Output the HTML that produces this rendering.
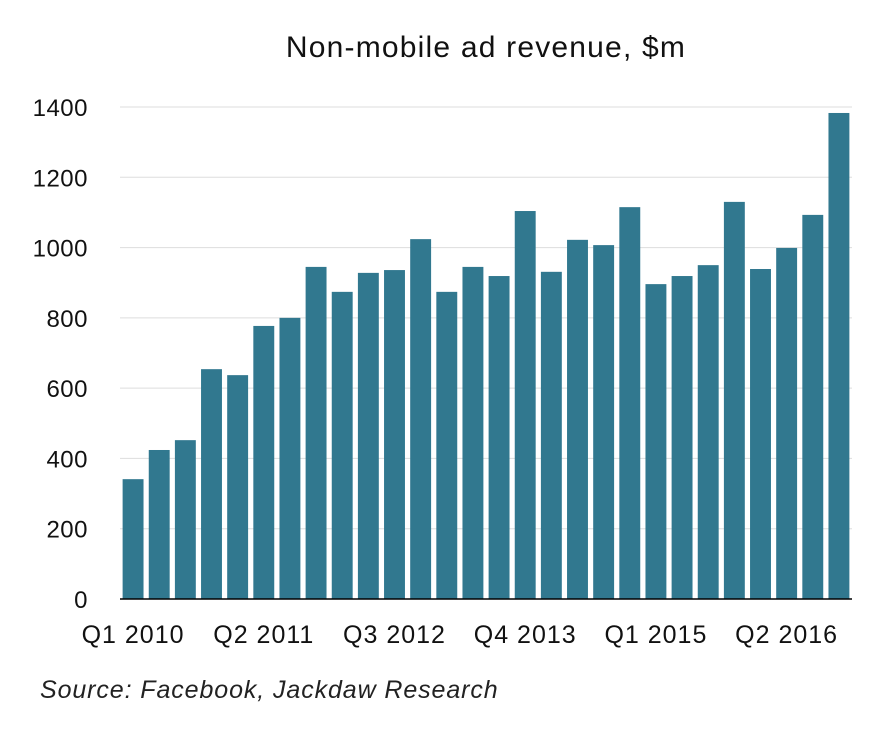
<!DOCTYPE html>
<html><head><meta charset="utf-8"><style>
body{margin:0;background:#fff;font-family:"Liberation Sans",sans-serif;}
</style></head><body>
<svg width="882" height="726" id="c">
<text x="486" y="57" text-anchor="middle" font-size="30" letter-spacing="1.2" fill="#111">Non-mobile ad revenue, $m</text>
<g id="grid"></g><g id="bars"></g><g id="xl"></g>
<text x="40" y="698" font-size="25" letter-spacing="0.9" font-style="italic" fill="#222">Source: Facebook, Jackdaw Research</text>
</svg>
<script>
const categories=["Q1 2010","Q2 2010","Q3 2010","Q4 2010","Q1 2011","Q2 2011","Q3 2011","Q4 2011","Q1 2012","Q2 2012","Q3 2012","Q4 2012","Q1 2013","Q2 2013","Q3 2013","Q4 2013","Q1 2014","Q2 2014","Q3 2014","Q4 2014","Q1 2015","Q2 2015","Q3 2015","Q4 2015","Q1 2016","Q2 2016","Q3 2016","Q4 2016"];
const values=[341,424,452,654,637,777,800,945,874,928,936,1024,874,945,919,1104,931,1022,1007,1115,896,919,950,1130,939,999,1093,1383];
const yTicks=[0,200,400,600,800,1000,1200,1400];
const xLabelIdx=[0,5,10,15,20,25];
const NS="http://www.w3.org/2000/svg";
const x0=120,x1=852,yBase=599,yTop=107,yMax=1400;
const y=v=>yBase-(v/yMax)*(yBase-yTop);
const step=(x1-x0)/categories.length,bw=step*0.8;
const xc=i=>x0+step*(i+0.5);
function mk(t,a,p){const e=document.createElementNS(NS,t);for(const k in a)e.setAttribute(k,a[k]);p.appendChild(e);return e;}
const g=document.getElementById('grid');
yTicks.forEach(t=>{
 if(t>0){const l=mk('line',{x1:x0,x2:x1,y1:y(t),y2:y(t),stroke:'#ddd','stroke-width':1},g);
 
 }
 const tx=mk('text',{x:88,y:y(t)+9,'text-anchor':'end','font-size':24,'letter-spacing':0.5,fill:'#111'},g);
 tx.textContent=t;
 
 
});
const b=document.getElementById('bars');
values.forEach((v,i)=>{
 const r=mk('rect',{x:xc(i)-bw/2,y:y(v),width:bw,height:yBase-y(v),fill:'#31788f'},b);
 
 
});
const ax=mk('line',{x1:x0,x2:x1,y1:yBase,y2:yBase,stroke:'#000','stroke-width':1.5},b);


const xl=document.getElementById('xl');
xLabelIdx.forEach(i=>{
 const t=mk('text',{x:xc(i),y:643,'text-anchor':'middle','font-size':25,'letter-spacing':1,fill:'#111'},xl);
 t.textContent=categories[i];
 
 
});
</script>
</body></html>
